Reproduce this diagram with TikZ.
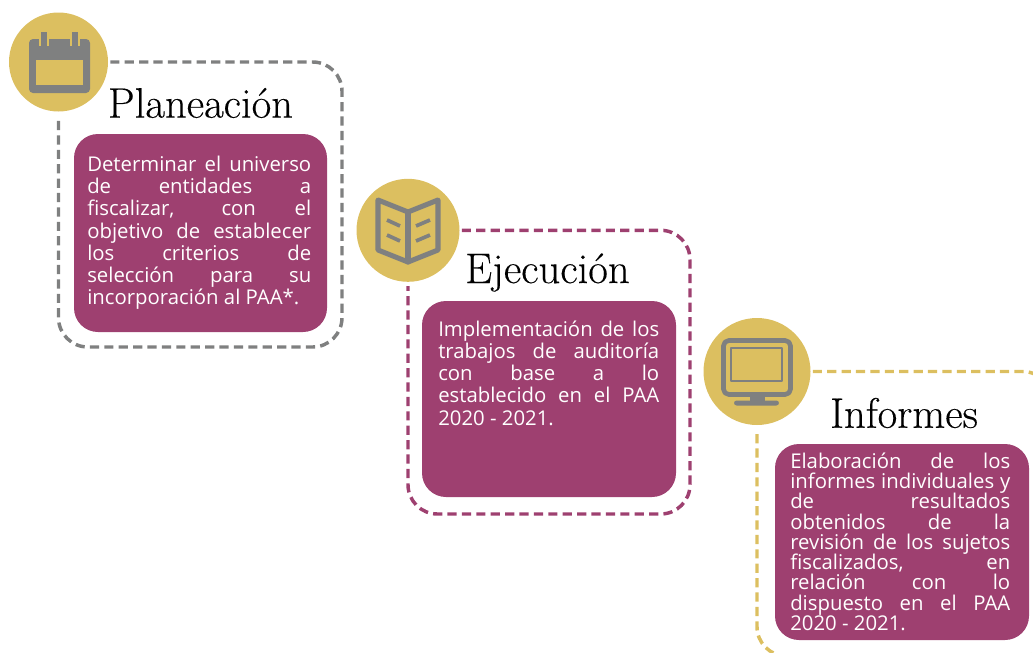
\documentclass[tikz,border=0pt]{standalone}
\usepackage{fontspec}
\setsansfont{Open Sans}
\newfontfamily\headfont[FakeBold=0.25]{Latin Modern Roman}
\definecolor{magen}{HTML}{9E4070}
\definecolor{gold}{HTML}{DCBF60}
\definecolor{icon}{HTML}{7F8080}
\hbadness=10000 \hfuzz=20pt
\newcommand{\bodyfont}[1]{\sffamily\fontsize{15.25pt}{#1}\selectfont\lineskiplimit=-20pt }
\tikzset{
  x=0.75pt,y=-0.75pt,
  disc/.style={circle,fill=gold,inner sep=0pt,minimum size=#1*0.75pt},
  frameline/.style={line width=2.6pt,dash pattern=on 6.9pt off 3.9pt,rounded corners=22pt},
  card/.style={fill=magen,rounded corners=18pt,inner sep=0pt,minimum width=190.5pt,minimum height=147.75pt},
  cardtext/.style={anchor=north west,inner sep=0pt,text=white,align=justify,text width=#1*0.75pt},
  heading/.style={font=\headfont\fontsize{32pt}{36pt}\selectfont,text=black,inner sep=0pt},
  iconfill/.style={fill=icon,draw=none},
  iconline/.style={draw=icon,line join=round,line cap=round},
}
\begin{document}
\begin{tikzpicture}
\useasboundingbox (0,0) rectangle (1033,653);
\clip (0,0) rectangle (1033,653);
% discs
\node[disc=99] (c1) at (58.5,62) {};
\node[disc=103] (c2) at (408,230.3) {};
\node[disc=107] (c3) at (757,371.5) {};
% frames
\coordinate (f1) at (342,347);
\coordinate (f2) at (690,514);
\coordinate (f3) at (1052,656);
\draw[frameline,icon] ([xshift=1.5pt]c1.east) -| (f1) -| ([yshift=-3pt]c1.south);
\draw[frameline,magen] ([xshift=1.5pt]c2.east) -| (f2) -| ([yshift=-3pt]c2.south);
\draw[frameline,gold] ([xshift=1.5pt]c3.east) -| (f3) -| ([yshift=-3pt]c3.south);
% cards
\node[card,minimum width=189.75pt,minimum height=148.5pt] (b1) at (200.5,233) {};
\node[card,minimum width=190.5pt,minimum height=147pt] (b2) at (549,399) {};
\node[card,minimum width=190.5pt,minimum height=147pt] (b3) at (902,542) {};
% headings
\node[heading] (t1) at (200.5,103) {Planeación};
\node[heading] (t2) at (547.5,272.5) {Ejecución};
\node[heading] (t3) at (904,413) {Informes};
% texts
\node[cardtext=224] (p1) at (87,155.5) {\bodyfont{16.7pt}Determinar el universo\linebreak de entidades a\linebreak fiscalizar, con el\linebreak objetivo de establecer\linebreak los criterios de\linebreak selección para su\linebreak incorporación al PAA*.\par};
\node[cardtext=221] (p2) at (438,320.5) {\bodyfont{16.65pt}Implementación de los\linebreak trabajos de auditoría\linebreak con base a lo\linebreak establecido en el PAA\linebreak 2020 - 2021.\par};
\node[cardtext=220] (p3) at (790,452.5) {\bodyfont{15.2pt}Elaboración de los\linebreak informes individuales y\linebreak de resultados\linebreak obtenidos de la\linebreak revisión de los sujetos\linebreak fiscalizados, en\linebreak relación con lo\linebreak dispuesto en el PAA\linebreak 2020 - 2021.\par};
% calendar icon
\fill[iconfill,rounded corners=3pt] (29,39) rectangle (90,93);
\fill[gold] (36,60) rectangle (83,85);
\fill[gold] (39,36) rectangle (49,46);
\fill[gold] (70,36) rectangle (80,46);
\fill[iconfill] (41,32) rectangle (47,46);
\fill[iconfill] (72,32) rectangle (78,46);
% book icon
\draw[iconline,line width=3.8pt] (378,200) -- (408,212) -- (438,200) -- (438,250) -- (408,262) -- (378,250) -- cycle;
\draw[iconline,line width=3.8pt] (408,212) -- (408,262);
\draw[iconline,line width=2.8pt,line cap=butt] (387,220) -- (400,226) (387,235) -- (400,241) (416,226) -- (430,220) (416,241) -- (430,235);
% monitor icon
\draw[iconline,line width=3.5pt,rounded corners=4pt] (723.5,340.5) rectangle (790.5,394.5);
\draw[iconline,line width=1.5pt] (731,348) rectangle (782,381);
\fill[iconfill] (750,396) rectangle (765,403);
\fill[iconfill,rounded corners=2pt] (734,400.5) rectangle (779,405.5);
\end{tikzpicture}
\end{document}
